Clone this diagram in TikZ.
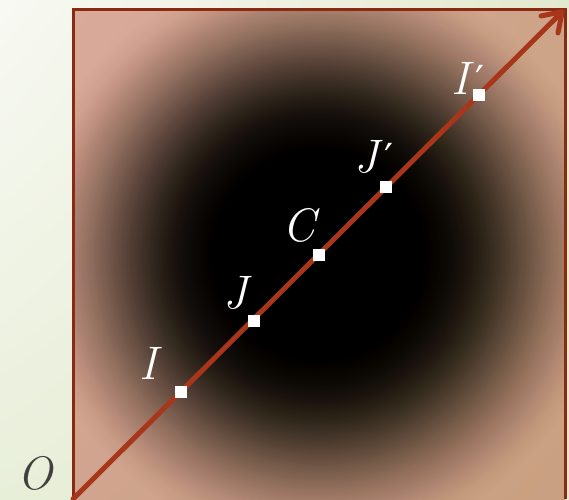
\documentclass[tikz,border=0pt]{standalone}
\usepackage{fontspec}
\newfontfamily\dvprime{DejaVu Serif}
\usetikzlibrary{arrows.meta,shadings}
\definecolor{bgA}{HTML}{F8F9F3}
\definecolor{bgB}{HTML}{E8EFD9}
\definecolor{bgC}{HTML}{E3E9CE}
\definecolor{sqUL}{HTML}{D9A99A}
\definecolor{sqUR}{HTML}{CDA488}
\definecolor{sqLL}{HTML}{D0A48E}
\definecolor{sqLR}{HTML}{C9A080}
\definecolor{frame}{HTML}{8B2A12}
\definecolor{ray}{HTML}{A8361A}
\definecolor{olab}{HTML}{404040}
\newcommand{\prm}{\hspace{6pt}{\upshape\dvprime\fontsize{40}{48}\selectfont ′}}
\tikzset{
  marker/.style={fill=white, minimum size=12pt, inner sep=0pt},
  lab/.style={text=white, font=\fontsize{47}{56}\selectfont\itshape, inner sep=0pt},
}
\begin{document}
\begin{tikzpicture}[x=1pt,y=-1pt]
\useasboundingbox (0,0) rectangle (569,499);
\shade[upper left=bgA, upper right=bgC, lower left=bgB, lower right=bgC] (0,0) rectangle (569,499);
\coordinate (SW) at (73,499);
\coordinate (NE) at (564,10);
\shade[upper left=sqUL, upper right=sqUR, lower left=sqLL, lower right=sqLR] (73,9) rectangle (565,499);
\begin{scope}
  \clip (73,9) rectangle (565,499);
  \foreach \r in {300,298,...,102} {
    \pgfmathsetmacro\sA{(300-\r)/200}
    \pgfmathsetmacro\sB{max(0,(298-\r)/200)}
    \pgfmathsetmacro\tA{1-0.94*(3*\sA*\sA-2*\sA*\sA*\sA)}
    \pgfmathsetmacro\tB{1-0.94*(3*\sB*\sB-2*\sB*\sB*\sB)}
    \pgfmathsetmacro\al{min(1,max(0,1-\tA/\tB))}
    \fill[black, opacity=\al] (319,255) circle (\r);
  }
  \fill[black] (319,255) circle (100);
\end{scope}
\draw[frame, line width=3pt] (73,499) -- (73,9) -- (565,9) -- (565,499);
\draw[ray, line width=5pt, line cap=round, -{Straight Barb[length=18pt,width=24pt,line width=5pt,round]}] (SW) -- (NE);
\node[marker] (I) at (181,392) {};
\node[marker] (J) at (254,321) {};
\node[marker] (C) at (319,255) {};
\node[marker] (Jp) at (386,187) {};
\node[marker] (Ip) at (479,95) {};
\node[lab] (lI) at (148,363) {I};
\node[lab] (lJ) at (236,293) {J};
\node[lab] (lC) at (299,225) {C};
\node[lab] (lJp) at (374,157) {J\prm};
\node[lab] (lIp) at (468,78) {I\prm};
\node[lab, text=olab] (lO) at (35,473) {O};
\end{tikzpicture}
\end{document}
